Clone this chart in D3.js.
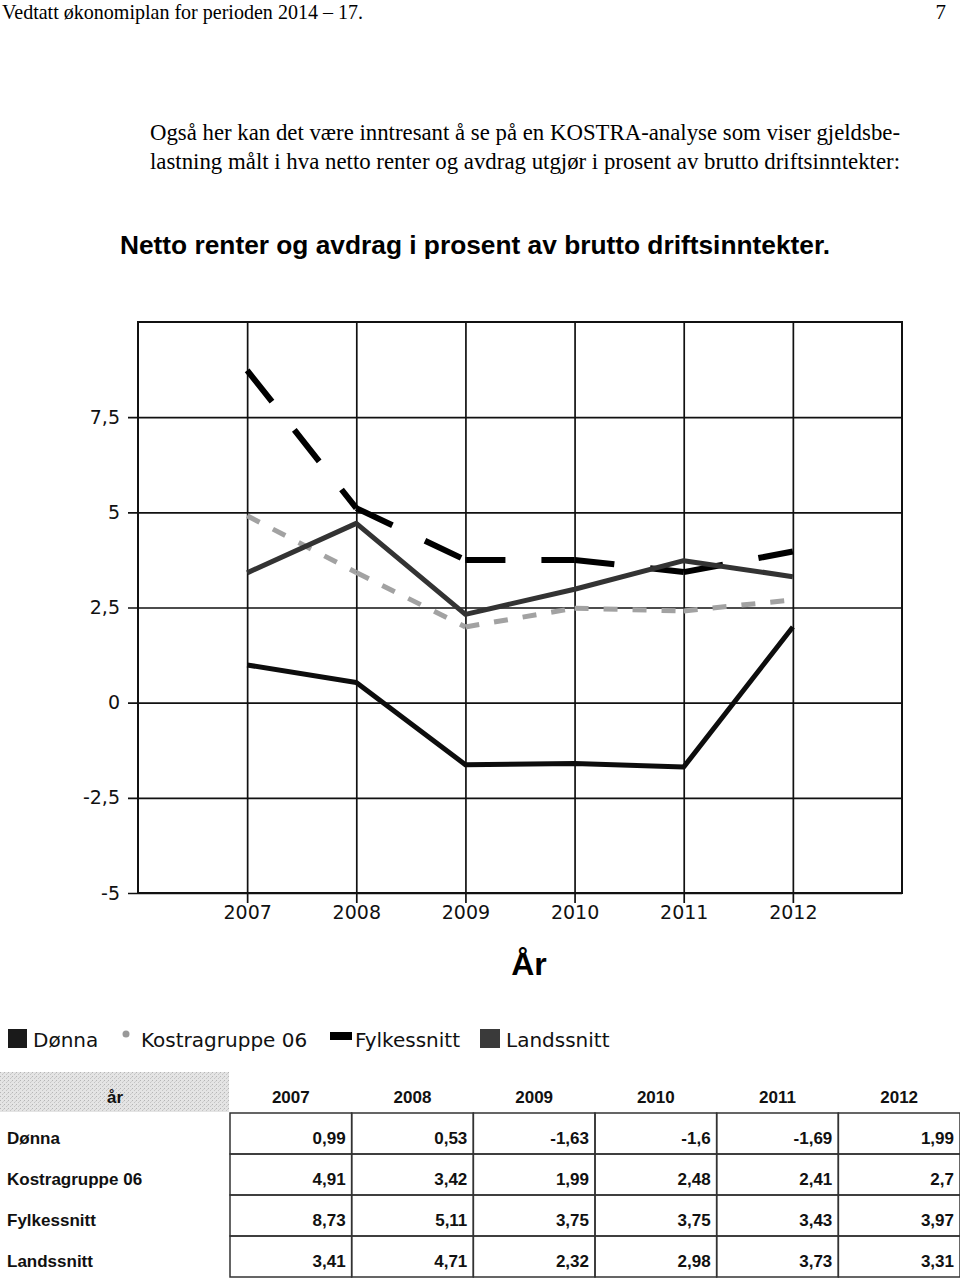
<!DOCTYPE html>
<html><head><meta charset="utf-8">
<script src="https://cdn.jsdelivr.net/npm/d3@7"></script>
<style>body{margin:0;background:#fff}svg{display:block}</style>
</head><body>
<script>
const years = [2007, 2008, 2009, 2010, 2011, 2012];
const seriesNames = ["Dønna", "Kostragruppe 06", "Fylkessnitt", "Landssnitt"];
const donna = [0.99, 0.53, -1.63, -1.6, -1.69, 1.99];
const kostra = [4.91, 3.42, 1.99, 2.48, 2.41, 2.7];
const fylke = [8.73, 5.11, 3.75, 3.75, 3.43, 3.97];
const lands = [3.41, 4.71, 2.32, 2.98, 3.73, 3.31];
const yTicks = [-5, -2.5, 0, 2.5, 5, 7.5];
const seriesValues = [donna, kostra, fylke, lands];

const fmt = v => String(v).replace(".", ",");

const svg = d3.select("body").append("svg").attr("width", 960).attr("height", 1278);
svg.append("rect").attr("width", 960).attr("height", 1278).attr("fill", "#fff");

// header texts
const serif = "'Liberation Serif','Times New Roman',serif";
svg.append("text").attr("x", 2).attr("y", 19).attr("font-family", serif).attr("font-size", 21)
  .attr("textLength", 361).attr("lengthAdjust", "spacingAndGlyphs")
  .text("Vedtatt økonomiplan for perioden 2014 – 17.");
svg.append("text").attr("x", 946).attr("y", 19).attr("text-anchor", "end").attr("font-family", serif).attr("font-size", 21).text("7");
svg.append("text").attr("x", 150).attr("y", 140).attr("font-family", serif).attr("font-size", 24)
  .attr("textLength", 750).attr("lengthAdjust", "spacingAndGlyphs")
  .text("Også her kan det være inntresant å se på en KOSTRA-analyse som viser gjeldsbe-");
svg.append("text").attr("x", 150).attr("y", 169).attr("font-family", serif).attr("font-size", 24)
  .attr("textLength", 750).attr("lengthAdjust", "spacingAndGlyphs")
  .text("lastning målt i hva netto renter og avdrag utgjør i prosent av brutto driftsinntekter:");

svg.append("text").attr("x", 120).attr("y", 254).attr("font-family", "'Liberation Sans',Arial,sans-serif")
  .attr("font-weight", "bold").attr("font-size", 25).attr("textLength", 710).attr("lengthAdjust", "spacingAndGlyphs")
  .text("Netto renter og avdrag i prosent av brutto driftsinntekter.");

// chart
const x = d3.scaleLinear().domain([2006, 2013]).range([138, 902]);
const y = d3.scaleLinear().domain([-5, 10]).range([893, 322]);
const sans = "'DejaVu Sans',Verdana,sans-serif";

const gy = svg.append("g").attr("transform", "translate(902,0)")
  .call(d3.axisLeft(y).tickValues(yTicks).tickSize(774).tickPadding(8).tickFormat(fmt));
gy.select(".domain").remove();
gy.selectAll("line").attr("stroke", "#111").attr("stroke-width", 1.7);
gy.selectAll("text").attr("font-family", sans).attr("font-size", 19).attr("fill", "#111");

const gx = svg.append("g").attr("transform", "translate(0,322)")
  .call(d3.axisBottom(x).tickValues(years).tickSize(581).tickPadding(3).tickFormat(d3.format("d")));
gx.select(".domain").remove();
gx.selectAll("line").attr("stroke", "#111").attr("stroke-width", 1.7);
gx.selectAll("text").attr("font-family", sans).attr("font-size", 19).attr("fill", "#111");

svg.append("rect").attr("x", x(2006)).attr("y", y(10)).attr("width", x(2013) - x(2006)).attr("height", y(-5) - y(10))
  .attr("fill", "none").attr("stroke", "#111").attr("stroke-width", 2);

const line = d3.line().x(d => x(d[0])).y(d => y(d[1]));
const pts = vals => vals.map((v, i) => [years[i], v]);
const segs = vals => d3.pairs(pts(vals));

// Dønna
svg.append("path").attr("d", line(pts(donna))).attr("fill", "none").attr("stroke", "#0d0d0d")
  .attr("stroke-width", 5).attr("stroke-linejoin", "round");
// Kostragruppe 06 (dash restarts each segment)
svg.append("g").selectAll("path").data(segs(kostra)).join("path").attr("d", d => line(d))
  .attr("fill", "none").attr("stroke", "#a2a2a2").attr("stroke-width", 5).attr("stroke-dasharray", "14,15");
// Fylkessnitt
svg.append("g").selectAll("path").data(segs(fylke)).join("path").attr("d", d => line(d))
  .attr("fill", "none").attr("stroke", "#000").attr("stroke-width", 6).attr("stroke-dasharray", "40,36");
// Landssnitt
svg.append("path").attr("d", line(pts(lands))).attr("fill", "none").attr("stroke", "#333")
  .attr("stroke-width", 5).attr("stroke-linejoin", "round");

// axis title
svg.append("text").attr("x", 529).attr("y", 975).attr("text-anchor", "middle")
  .attr("font-family", "'Liberation Sans',Arial,sans-serif").attr("font-weight", "bold").attr("font-size", 32).text("År");

// legend
const lg = svg.append("g").attr("font-family", sans).attr("font-size", 20).attr("fill", "#111");
lg.append("rect").attr("x", 8).attr("y", 1029).attr("width", 19).attr("height", 19).attr("fill", "#1a1a1a");
lg.append("text").attr("x", 33).attr("y", 1047).text(seriesNames[0]);
lg.append("circle").attr("cx", 126).attr("cy", 1034).attr("r", 3.5).attr("fill", "#999");
lg.append("text").attr("x", 141).attr("y", 1047).text(seriesNames[1]);
lg.append("rect").attr("x", 330).attr("y", 1032).attr("width", 22).attr("height", 8).attr("fill", "#000");
lg.append("text").attr("x", 355).attr("y", 1047).text(seriesNames[2]);
lg.append("rect").attr("x", 480).attr("y", 1029).attr("width", 20).attr("height", 19).attr("fill", "#3a3a3a");
lg.append("text").attr("x", 506).attr("y", 1047).text(seriesNames[3]);

// table
const defs = svg.append("defs");
const pat = defs.append("pattern").attr("id", "dots").attr("width", 4).attr("height", 4).attr("patternUnits", "userSpaceOnUse");
pat.append("rect").attr("width", 4).attr("height", 4).attr("fill", "#e4e4e4");
pat.append("rect").attr("x", 0).attr("y", 0).attr("width", 1).attr("height", 1).attr("fill", "#b5b5b5");
pat.append("rect").attr("x", 2).attr("y", 2).attr("width", 1).attr("height", 1).attr("fill", "#c4c4c4");
pat.append("rect").attr("x", 3).attr("y", 1).attr("width", 1).attr("height", 1).attr("fill", "#cfcfcf");

const tFont = "'Liberation Sans',Arial,sans-serif";
const cx = d3.scaleBand().domain(years).range([230, 960]);
const ry = d3.scaleBand().domain(seriesNames).range([1113, 1277]);

svg.append("rect").attr("x", 0).attr("y", 1072).attr("width", 229).attr("height", 40).attr("fill", "url(#dots)");
const tg = svg.append("g").attr("font-family", tFont).attr("font-weight", "bold").attr("font-size", 17).attr("fill", "#111");
tg.append("text").attr("x", 115).attr("y", 1103).attr("text-anchor", "middle").text("år");
tg.selectAll("text.yr").data(years).join("text").attr("class", "yr")
  .attr("x", d => cx(d) + cx.bandwidth() / 2).attr("y", 1103).attr("text-anchor", "middle").text(d => d);

seriesNames.forEach((name, r) => {
  const top = ry(name);
  tg.append("text").attr("x", 7).attr("y", top + ry.bandwidth() / 2 + 10).text(name);
  svg.append("g").selectAll("rect").data(years).join("rect")
    .attr("x", d => cx(d)).attr("y", top).attr("width", cx.bandwidth()).attr("height", ry.bandwidth())
    .attr("fill", "none").attr("stroke", "#333").attr("stroke-width", 1.5);
  tg.append("g").selectAll("text").data(seriesValues[r]).join("text")
    .attr("x", (d, i) => cx(years[i]) + cx.bandwidth() - 6).attr("y", top + ry.bandwidth() / 2 + 10)
    .attr("text-anchor", "end").text(d => fmt(d));
});
</script>
</body></html>
